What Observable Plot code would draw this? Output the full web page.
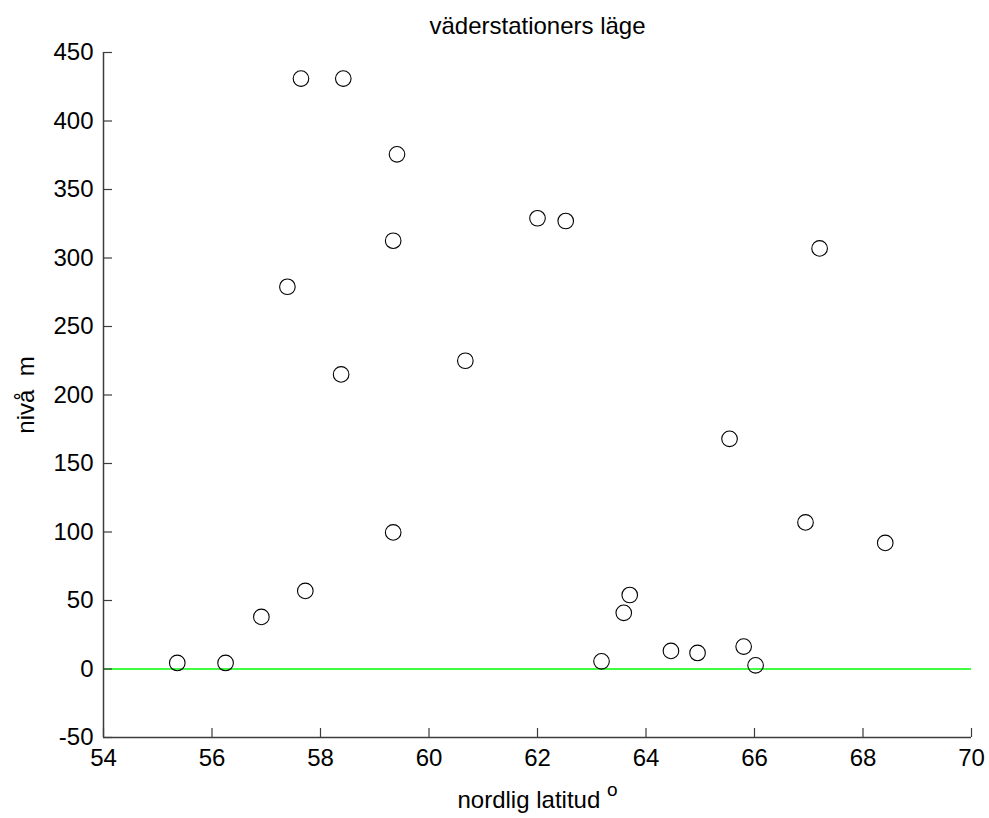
<!DOCTYPE html>
<html>
<head>
<meta charset="utf-8">
<script src="https://cdn.jsdelivr.net/npm/d3@7"></script>
<script src="https://cdn.jsdelivr.net/npm/@observablehq/plot@0.6"></script>
<style>
  html, body { margin: 0; padding: 0; background: #ffffff; }
  svg text { white-space: pre; }
</style>
</head>
<body>
<div id="chart"></div>
<script>
// Station latitude (degrees north) and elevation (m)
const latitude  = [55.36, 56.25, 56.91, 57.72, 57.39, 57.64, 58.42, 58.38, 59.34, 59.34, 59.41, 60.67, 62.00, 62.52, 63.18, 63.59, 63.70, 64.46, 64.95, 65.54, 65.80, 66.02, 66.94, 67.20, 68.41];
const elevation = [4.4, 4.4, 38, 57, 279, 431, 431, 215, 99.7, 312.6, 375.7, 225, 329, 327, 5.6, 41, 54, 13.2, 11.7, 168, 16.4, 2.7, 107, 307, 92];

const xTicks = [54, 56, 58, 60, 62, 64, 66, 68, 70];
const yTicks = [-50, 0, 50, 100, 150, 200, 250, 300, 350, 400, 450];

const titleText = "väderstationers läge";
const xLabel = "nordlig latitud";
const xLabelSup = "o";
const yLabel = "nivå  m";

const stations = latitude.map((lat, i) => ({lat, elev: elevation[i]}));
const axisColor = "#3c3c3c";

const chart = Plot.plot({
  width: 989,
  height: 818,
  marginLeft: 103,
  marginRight: 18,
  marginTop: 52,
  marginBottom: 81,
  style: {
    fontFamily: "'Liberation Sans', Arial, Helvetica, sans-serif",
    fontSize: "24px",
    color: "#000",
    background: "#fff",
    overflow: "visible"
  },
  x: {domain: [54, 70], labelArrow: "none"},
  y: {domain: [-50, 450], labelArrow: "none"},
  marks: [
    Plot.ruleY([0], {stroke: "#00ff00", strokeWidth: 1.4}),
    Plot.ruleX([54], {stroke: axisColor, strokeWidth: 1.5}),
    Plot.ruleY([-50], {stroke: axisColor, strokeWidth: 1.5}),
    // inward tick marks (no text)
    Plot.axisX(xTicks, {anchor: "bottom", tickSize: 9, dy: -9, tickFormat: () => "", label: null, stroke: axisColor, strokeWidth: 1.2}),
    Plot.axisY(yTicks, {anchor: "left", tickSize: 9, dx: 9, tickFormat: () => "", label: null, stroke: axisColor, strokeWidth: 1.2}),
    // tick labels and axis labels
    Plot.axisX(xTicks, {
      anchor: "bottom", tickSize: 0, tickPadding: 11,
      tickFormat: d => String(d), fontSize: 24, fill: "#000",
      label: xLabel, labelAnchor: "center", labelOffset: 70, labelArrow: "none"
    }),
    Plot.axisY(yTicks, {
      anchor: "left", tickSize: 0, tickPadding: 10,
      tickFormat: d => String(d), fontSize: 24, fill: "#000",
      label: yLabel, labelAnchor: "center", labelOffset: 87, labelArrow: "none"
    }),
    Plot.dot(stations, {x: "lat", y: "elev", r: 7.8, stroke: "#000", strokeWidth: 1.1, fill: "none"}),
    Plot.text([titleText], {text: d => d, frameAnchor: "top", lineAnchor: "top", dy: -36, fontSize: 24, fill: "#000"})
  ]
});

// make sure no arrows remain on the axis labels
for (const sel of ['[aria-label="x-axis label"] text', '[aria-label="y-axis label"] text']) {
  const t = chart.querySelector(sel);
  if (t) t.textContent = t.textContent.replace(/\s*[←↑→↓]\s*/g, "");
}

// add the superscript "o" to the x-axis label
const xl = chart.querySelector('[aria-label="x-axis label"] text');
if (xl) {
  const sp = document.createElementNS("http://www.w3.org/2000/svg", "tspan");
  sp.textContent = " ";
  xl.appendChild(sp);
  const sup = document.createElementNS("http://www.w3.org/2000/svg", "tspan");
  sup.textContent = xLabelSup;
  sup.setAttribute("font-size", "19");
  sup.setAttribute("dy", "-0.6em");
  xl.appendChild(sup);
}

document.getElementById("chart").appendChild(chart);
</script>
</body>
</html>
